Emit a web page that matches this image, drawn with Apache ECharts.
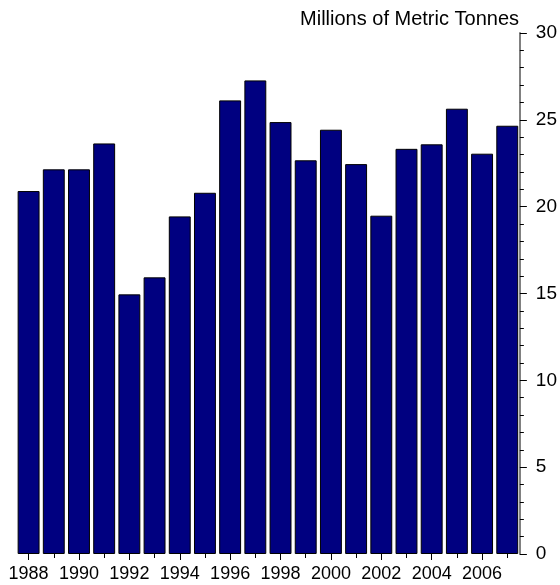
<!DOCTYPE html>
<html>
<head>
<meta charset="utf-8">
<script src="https://cdn.jsdelivr.net/npm/echarts@6/dist/echarts.min.js"></script>
<style>html,body{margin:0;padding:0;background:#fff}#c{width:560px;height:585px}</style>
</head>
<body>
<div id="c"></div>
<script>
const years = ['1988','1989','1990','1991','1992','1993','1994','1995','1996','1997','1998','1999','2000','2001','2002','2003','2004','2005','2006','2007'];
const tonnes = [20.9,22.15,22.15,23.64,14.95,15.93,19.44,20.8,26.12,27.27,24.87,22.67,24.43,22.45,19.48,23.33,23.59,25.64,23.05,24.66];
const yTicks = [0,5,10,15,20,25,30];
const unitLabel = 'Millions of Metric Tonnes';

const chart = echarts.init(document.getElementById('c'));
chart.setOption({
  animation: false,
  backgroundColor: '#fff',
  title: {
    text: unitLabel, right: 36, top: 4,
    textStyle: {fontFamily: 'Liberation Sans', fontSize: 20, fontWeight: 'normal', color: '#000'}
  },
  grid: {left: 16, right: 40, top: 33, bottom: 31},
  xAxis: [{
    type: 'category', data: years, position: 'bottom',
    axisLine: {show: false},
    axisTick: {show: true, alignWithLabel: true, interval: 1, length: 6, lineStyle: {color: '#000'}},
    axisLabel: {interval: 1, margin: 11, fontFamily: 'Liberation Sans', fontSize: 18, color: '#000'}
  }, {
    type: 'category', data: years, position: 'bottom',
    axisLine: {show: false},
    axisTick: {show: true, alignWithLabel: true, interval: 0, length: 4, lineStyle: {color: '#000'}},
    axisLabel: {show: false}
  }],
  yAxis: {
    type: 'value', position: 'right', min: yTicks[0], max: yTicks[yTicks.length-1], interval: 5,
    axisLine: {show: true, lineStyle: {color: '#808080', width: 2}},
    axisTick: {show: true, length: 7, lineStyle: {color: '#000'}},
    minorTick: {show: true, splitNumber: 5, length: 4, lineStyle: {color: '#000'}},
    splitLine: {show: false},
    axisLabel: {margin: 16, fontFamily: 'Liberation Sans', fontSize: 19, color: '#000'}
  },
  series: [{
    type: 'bar', data: tonnes, xAxisIndex: 0,
    barCategoryGap: '13%',
    itemStyle: {color: '#000080', borderColor: '#000', borderWidth: 1}
  }]
});
</script>
</body>
</html>
